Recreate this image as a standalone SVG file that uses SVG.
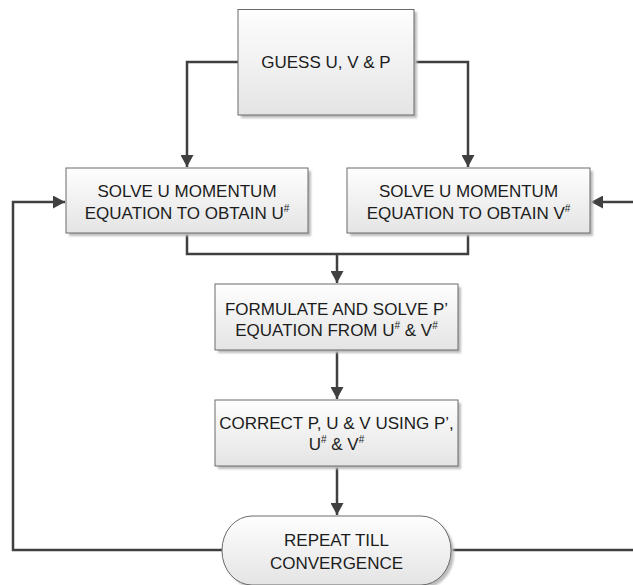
<svg xmlns="http://www.w3.org/2000/svg" width="633" height="585" viewBox="0 0 633 585">
  <style>
    .box { fill: url(#g); stroke: #6a6a6a; stroke-width: 1; }
    .sh { fill: #bdbdbd; filter: url(#blur); }
    .t { font-family: "Liberation Sans", Arial, sans-serif; font-size: 17px; fill: #1c1c1c; text-anchor: middle; }
    .sup { font-size: 10px; }
    .c { fill: none; stroke: #404040; stroke-width: 2.5; }
    .a { marker-end: url(#arr); }
  </style>
  <defs>
    <linearGradient id="g" x1="0" y1="0" x2="0" y2="1">
      <stop offset="0" stop-color="#fefefe"/>
      <stop offset="1" stop-color="#e4e4e4"/>
    </linearGradient>
    <filter id="blur" x="-10%" y="-10%" width="120%" height="120%">
      <feGaussianBlur stdDeviation="1.2"/>
    </filter>
    <marker id="arr" viewBox="0 0 12 13" refX="12" refY="6.5" markerWidth="12" markerHeight="13" markerUnits="userSpaceOnUse" orient="auto">
      <path d="M0,0 L12,6.5 L0,13 z" fill="#404040"/>
    </marker>
  </defs>
  <rect width="633" height="585" fill="#ffffff"/>

  <g id="connectors">
    <path class="c a" d="M238,62 H187 V167"/>
    <path class="c a" d="M414,62 H468 V167"/>
    <path class="c" d="M187,233 V254 H468 V233"/>
    <path class="c a" d="M337,254 V283"/>
    <path class="c a" d="M337,350 V399"/>
    <path class="c a" d="M337,466 V515"/>
    <path class="c a" d="M222,550 H13 V202 H65"/>
    <path class="c a" d="M451,550 H640 V202 H591"/>
  </g>

  <g id="guess">
    <rect class="sh" x="241" y="12" width="176" height="106"/>
    <rect class="box" x="238" y="9.5" width="176" height="105.5"/>
    <text class="t" x="326" y="68">GUESS U, V &amp; P</text>
  </g>

  <g id="solve-u">
    <rect class="sh" x="69" y="171" width="242" height="65"/>
    <rect class="box" x="66" y="168" width="242" height="65"/>
    <text class="t" x="187" y="197">SOLVE U MOMENTUM</text>
    <text class="t" x="187" y="219">EQUATION TO OBTAIN U<tspan class="sup" dy="-7">#</tspan></text>
  </g>

  <g id="solve-v">
    <rect class="sh" x="350" y="171" width="243" height="65"/>
    <rect class="box" x="347" y="168" width="243" height="65"/>
    <text class="t" x="468.5" y="197">SOLVE U MOMENTUM</text>
    <text class="t" x="468.5" y="219">EQUATION TO OBTAIN V<tspan class="sup" dy="-7">#</tspan></text>
  </g>

  <g id="formulate">
    <rect class="sh" x="218" y="287" width="243" height="66"/>
    <rect class="box" x="215" y="284" width="243" height="66"/>
    <text class="t" x="336.5" y="315">FORMULATE AND SOLVE P’</text>
    <text class="t" x="336.5" y="336">EQUATION FROM U<tspan class="sup" dy="-7">#</tspan><tspan dy="7"> &amp; V</tspan><tspan class="sup" dy="-7">#</tspan></text>
  </g>

  <g id="correct">
    <rect class="sh" x="218" y="403" width="243" height="66"/>
    <rect class="box" x="215" y="400" width="243" height="66"/>
    <text class="t" x="336.5" y="429">CORRECT P, U &amp; V USING P’,</text>
    <text class="t" x="336.5" y="450">U<tspan class="sup" dy="-7">#</tspan><tspan dy="7"> &amp; V</tspan><tspan class="sup" dy="-7">#</tspan></text>
  </g>

  <g id="repeat">
    <rect class="sh" x="225" y="519" width="229" height="69" rx="30" ry="34"/>
    <rect class="box" x="222" y="516" width="229" height="69" rx="30" ry="34"/>
    <text class="t" x="336.5" y="546">REPEAT TILL</text>
    <text class="t" x="336.5" y="569">CONVERGENCE</text>
  </g>
</svg>
